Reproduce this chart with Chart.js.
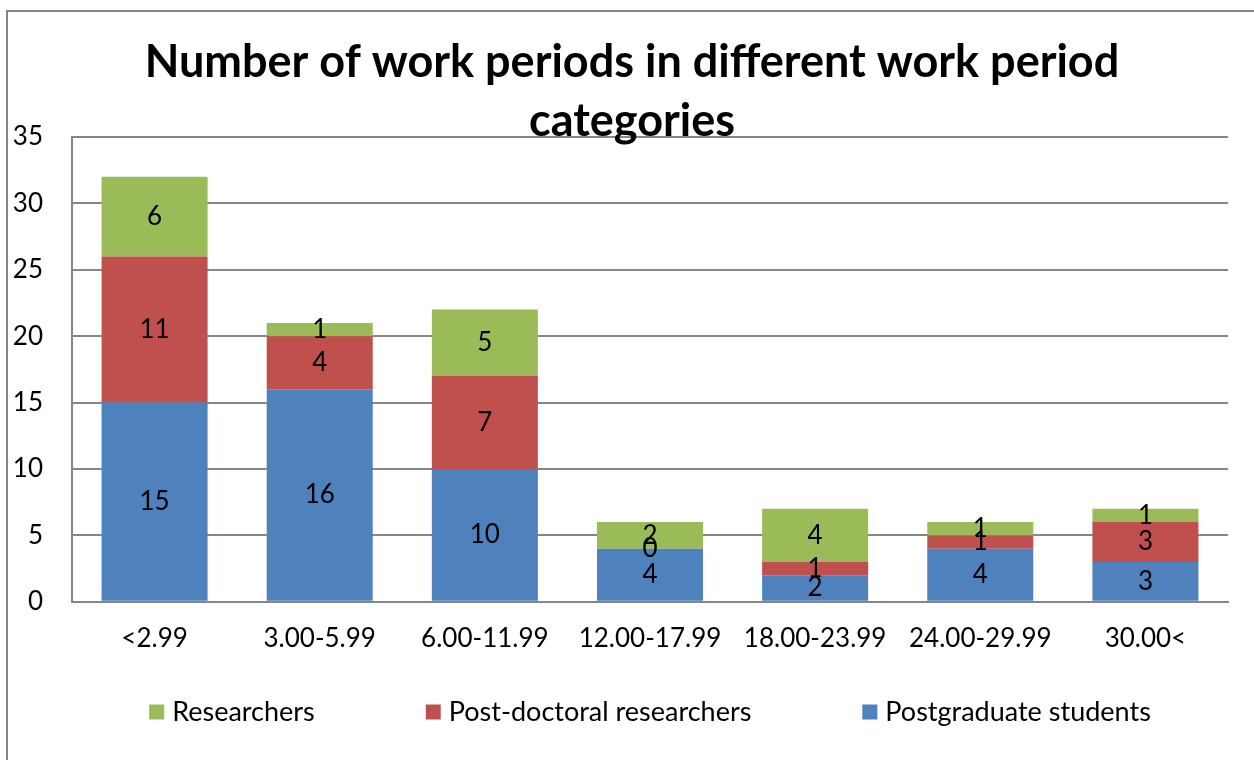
<!DOCTYPE html>
<html>
<head>
<meta charset="utf-8">
<script src="https://cdn.jsdelivr.net/npm/chart.js@4"></script>
<style>
  html, body { margin: 0; padding: 0; background: #fff; overflow: hidden; }
  #frame { position: absolute; left: 6px; top: 10px; width: 1400px; height: 900px; border: 2px solid #868686; }
  #wrap { position: absolute; left: 0; top: 0; width: 1254px; height: 760px; }
</style>
</head>
<body>
<div id="frame"></div>
<div id="wrap"><canvas id="chart"></canvas></div>
<script>
// --- data ---
const categories = ['<2.99', '3.00-5.99', '6.00-11.99', '12.00-17.99', '18.00-23.99', '24.00-29.99', '30.00<'];
const postgraduates = [15, 16, 10, 4, 2, 4, 3];
const postdocs = [11, 4, 7, 0, 1, 1, 3];
const researchers = [6, 1, 5, 2, 4, 1, 1];
const yMin = 0, yMax = 35, yStep = 5;
const titleLines = ['Number of work periods in different work period', 'categories'];

const fontFamily = 'Lato, "Open Sans", sans-serif';
const gridGrey = '#868686';

// value labels in the middle of each segment
const segmentLabels = {
  id: 'segmentLabels',
  afterDatasetsDraw(chart) {
    const ctx = chart.ctx;
    ctx.save();
    ctx.font = '26px ' + fontFamily;
    ctx.fillStyle = '#000';
    ctx.textAlign = 'center';
    ctx.textBaseline = 'middle';
    chart.data.datasets.forEach((ds, i) => {
      chart.getDatasetMeta(i).data.forEach((bar, j) => {
        ctx.fillText(String(ds.data[j]), bar.x, (bar.y + bar.base) / 2);
      });
    });
    ctx.restore();
  }
};

// legend row under the axis, wide gaps like the original
const bottomLegend = {
  id: 'bottomLegend',
  afterDraw(chart) {
    const ctx = chart.ctx;
    const area = chart.chartArea;
    const box = 15, textGap = 8, itemGap = 111;
    ctx.save();
    ctx.font = '27px ' + fontFamily;
    const items = chart.data.datasets.slice().reverse();
    const widths = items.map(d => box + textGap + ctx.measureText(d.label).width);
    const total = widths.reduce((a, b) => a + b, 0) + itemGap * (items.length - 1);
    let x = (area.left + area.right) / 2 - total / 2;
    const y = chart.height - 48;
    ctx.textBaseline = 'middle';
    items.forEach((d, i) => {
      ctx.fillStyle = d.backgroundColor;
      ctx.fillRect(x, y - box / 2, box, box);
      ctx.fillStyle = '#000';
      ctx.fillText(d.label, x + box + textGap, y);
      x += widths[i] + itemGap;
    });
    ctx.restore();
  }
};

new Chart(document.getElementById('chart'), {
  type: 'bar',
  data: {
    labels: categories,
    datasets: [
      {label: 'Postgraduate students', data: postgraduates, backgroundColor: '#4F81BD'},
      {label: 'Post-doctoral researchers', data: postdocs, backgroundColor: '#C0504D'},
      {label: 'Researchers', data: researchers, backgroundColor: '#9BBB59'}
    ]
  },
  options: {
    responsive: true,
    maintainAspectRatio: false,
    animation: false,
    devicePixelRatio: 1,
    // title is centred on the outer frame, so the box runs 10px past the right edge
    layout: {padding: {top: 0, left: 0, right: -10, bottom: 85}},
    datasets: {bar: {barPercentage: 0.642, categoryPercentage: 1}},
    plugins: {
      legend: {display: false},
      tooltip: {enabled: false},
      title: {
        display: true,
        text: titleLines,
        color: '#000',
        font: {family: fontFamily, size: 45, weight: 'bold', lineHeight: 1.333},
        padding: {top: 32, bottom: -15}
      }
    },
    scales: {
      x: {
        stacked: true,
        grid: {display: false, drawTicks: false},
        border: {color: gridGrey, width: 2},
        ticks: {color: '#000', padding: 21, maxRotation: 0, font: {family: fontFamily, size: 26}}
      },
      y: {
        stacked: true,
        min: yMin,
        max: yMax,
        afterFit(scale) { scale.width = 72; },
        grid: {color: gridGrey, lineWidth: 2, drawTicks: false},
        border: {color: gridGrey, width: 2},
        ticks: {stepSize: yStep, color: '#000', padding: 29, font: {family: fontFamily, size: 26}}
      },
      // empty spacer on the right (plot ends 26px before the window edge)
      yRight: {
        type: 'linear',
        position: 'right',
        afterFit(scale) { scale.width = 36; },
        grid: {display: false, drawTicks: false},
        border: {display: false},
        ticks: {display: false}
      }
    }
  },
  plugins: [segmentLabels, bottomLegend]
});
</script>
</body>
</html>
